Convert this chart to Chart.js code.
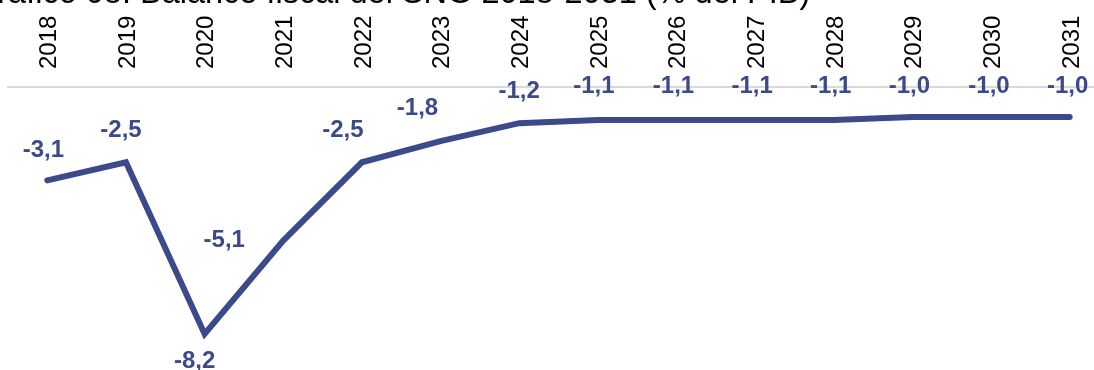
<!DOCTYPE html>
<html>
<head>
<meta charset="utf-8">
<script src="https://cdn.jsdelivr.net/npm/chart.js@4/dist/chart.umd.min.js"></script>
<style>
  html, body { margin: 0; padding: 0; background: #fff; }
  #wrap { position: relative; width: 1094px; height: 370px; overflow: hidden; }
  #title {
    position: absolute; top: -24px; white-space: nowrap;
    font: 32.5px/33px "Liberation Sans", Arial, sans-serif; color: #000;
  }
  #box { position: absolute; left: 0; top: 0; width: 1112px; height: 370px; }
</style>
</head>
<body>
<div id="wrap">
  <div id="box"><canvas id="chart"></canvas></div>
  <div id="title">Gráfico 08: Balance fiscal del SNG 2018-2031 (% del PIB)</div>
</div>
<script>
// Balance fiscal del SNG (% del PIB)
const years = ["2018", "2019", "2020", "2021", "2022", "2023", "2024",
  "2025", "2026", "2027", "2028", "2029", "2030", "2031"];
const balance = [-3.1, -2.5, -8.2, -5.1, -2.5, -1.8, -1.2,
  -1.1, -1.1, -1.1, -1.1, -1.0, -1.0, -1.0];

// where each value label sits relative to its point (style only)
const labelShift = [[-4, -30], [-5, -32], [-10, 27], [-59, 0], [-19, -32], [-23, -33], [0, -32],
  [-4, -34], [-3, -34], [-3, -34], [-3, -34], [-3, -31], [-2, -31], [-2, -31]];

const navy = "#3b4a8b";

// right-align the (cropped) title so it ends where the reference does
const title = document.getElementById("title");
title.style.left = (810 - title.offsetWidth) + "px";

// draw the value labels, decimal comma like the source
const valueLabels = {
  id: "valueLabels",
  afterDatasetsDraw(chart) {
    const ctx = chart.ctx;
    const meta = chart.getDatasetMeta(0);
    ctx.save();
    ctx.font = "bold 24px 'Liberation Sans', Arial, sans-serif";
    ctx.fillStyle = navy;
    ctx.textAlign = "center";
    ctx.textBaseline = "middle";
    meta.data.forEach((pt, i) => {
      const txt = balance[i].toFixed(1).replace(".", ",");
      ctx.fillText(txt, pt.x + labelShift[i][0], pt.y + labelShift[i][1]);
    });
    ctx.restore();
  }
};

new Chart(document.getElementById("chart"), {
  type: "line",
  data: {
    labels: years,
    datasets: [{
      data: balance,
      borderColor: navy,
      borderWidth: 6,
      borderCapStyle: "round",
      borderJoinStyle: "miter",
      pointRadius: 0,
      tension: 0,
      fill: false
    }]
  },
  options: {
    responsive: true,
    maintainAspectRatio: false,
    animation: false,
    layout: { padding: { left: 8, right: 3, top: 0, bottom: 12 } },
    plugins: {
      legend: { display: false },
      tooltip: { enabled: false },
      title: { display: false }
    },
    scales: {
      x: {
        position: "top",
        offset: true,
        grid: { display: false, drawTicks: false },
        border: { display: true, color: "#d9d9d9", width: 2 },
        ticks: {
          color: "#000",
          font: { family: "'Liberation Sans', Arial, sans-serif", size: 24 },
          minRotation: 90,
          maxRotation: 90,
          padding: 18,
          labelOffset: 31,
          autoSkip: false
        },
        afterFit(scale) { scale.height = 87; }
      },
      y: {
        display: false,
        min: -9,
        max: 0
      }
    }
  },
  plugins: [valueLabels]
});
</script>
</body>
</html>
